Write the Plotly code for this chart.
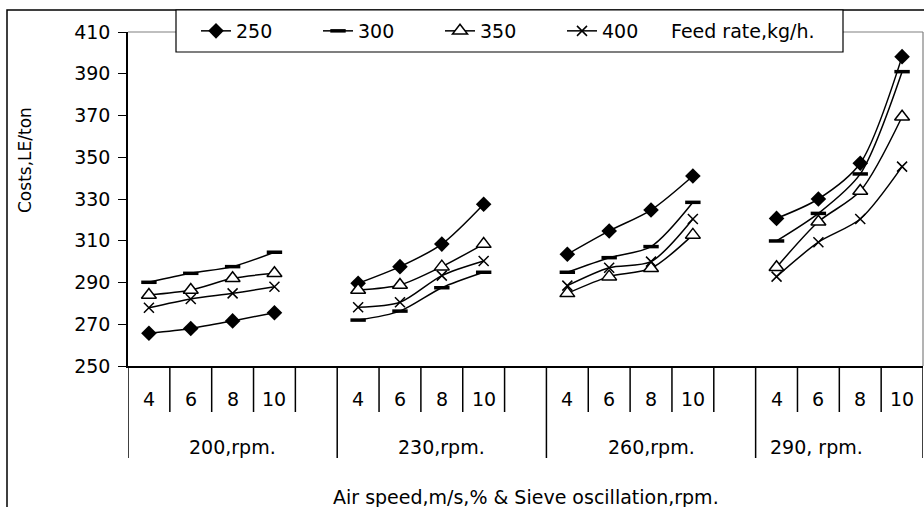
import plotly.graph_objects as go

groups = ["200,rpm.", "230,rpm.", "260,rpm.", "290, rpm."]
air_speeds = ["4", "6", "8", "10"]
feed_rates = ["250", "300", "350", "400"]

cost_250 = [265.7, 268.0, 271.6, 275.5, 289.6, 297.6, 308.4, 327.5,
            303.5, 314.7, 324.7, 341.0, 320.7, 330.0, 347.1, 398.2]
cost_300 = [290.1, 294.4, 297.6, 304.5, 272.0, 276.3, 287.5, 294.9,
            294.9, 301.9, 307.2, 328.4, 309.9, 323.1, 342.0, 391.0]
cost_350 = [284.0, 286.4, 292.0, 294.4, 286.4, 288.8, 297.6, 308.4,
            284.8, 292.8, 296.8, 312.8, 297.3, 319.1, 333.8, 369.4]
cost_400 = [277.9, 282.1, 284.8, 288.0, 278.1, 280.5, 293.3, 300.3,
            288.5, 297.1, 300.0, 320.4, 292.8, 309.3, 320.4, 345.5]

FONT = "DejaVu Sans"
FS = 19
SLOTS_PER_GROUP = 5
N_SLOTS = 19
group_centers = [2.5, 7.5, 12.5, 16.45]

W, H = 924, 507
PL, PR, PT, PB = 128, 923, 32, 366   # plot area in window pixels


def with_gaps(vals):
    xs, ys = [], []
    for g in range(len(groups)):
        for j in range(len(air_speeds)):
            xs.append(SLOTS_PER_GROUP * g + j + 0.5)
            ys.append(vals[g * len(air_speeds) + j])
        xs.append(None)
        ys.append(None)
    return xs, ys


styles = {
    "250": dict(symbol="diamond", size=12, color="black", line=dict(color="black", width=0)),
    "300": dict(symbol="line-ew", size=11, color="black", line=dict(color="black", width=3.5)),
    "350": dict(symbol="triangle-up", size=13, color="white", line=dict(color="black", width=1.5)),
    "400": dict(symbol="x-thin", size=10, color="black", line=dict(color="black", width=1.5)),
}

fig = go.Figure()
for name, vals in zip(feed_rates, [cost_250, cost_300, cost_350, cost_400]):
    xs, ys = with_gaps(vals)
    fig.add_trace(go.Scatter(
        x=xs, y=ys, name=name, mode="lines+markers",
        line=dict(color="black", width=1.5, shape="spline", smoothing=0.8),
        marker=styles[name], connectgaps=False,
    ))


def px_x(px):
    return (px - PL) / float(PR - PL)


def px_y(py):
    return (PB - py) / float(PB - PT)


shapes = []
# outer black frame
shapes.append(dict(type="rect", xref="paper", yref="paper",
                   x0=px_x(7), x1=px_x(960), y0=px_y(560), y1=px_y(10),
                   line=dict(color="black", width=1.5), fillcolor="rgba(0,0,0,0)"))
# gray plot-area border (top, right)
shapes.append(dict(type="line", xref="paper", yref="paper", x0=0, x1=1, y0=1, y1=1,
                   line=dict(color="#808080", width=1.2)))
shapes.append(dict(type="line", xref="paper", yref="paper", x0=1, x1=1, y0=0, y1=1,
                   line=dict(color="#808080", width=1.2)))
# legend box
shapes.append(dict(type="rect", xref="paper", yref="paper",
                   x0=px_x(176), x1=px_x(843), y0=px_y(52), y1=px_y(10),
                   line=dict(color="black", width=1.2), fillcolor="white"))
# category separators
for b in range(N_SLOTS + 1):
    is_group = b in (0, 5, 10, 15, 19)
    shapes.append(dict(type="line", xref="x", yref="paper", x0=b, x1=b,
                       y0=0, y1=px_y(458) if is_group else px_y(412),
                       line=dict(color="black", width=1.5)))

annotations = []
for g in range(len(groups)):
    for j, lab in enumerate(air_speeds):
        annotations.append(dict(x=SLOTS_PER_GROUP * g + j + 0.5, y=px_y(399),
                                xref="x", yref="paper", text=lab, showarrow=False,
                                font=dict(family=FONT, size=FS, color="black"),
                                xanchor="center", yanchor="middle"))
    annotations.append(dict(x=group_centers[g], y=px_y(447), xref="x", yref="paper",
                            text=groups[g], showarrow=False,
                            font=dict(family=FONT, size=FS, color="black"),
                            xanchor="center", yanchor="middle"))
annotations.append(dict(x=0.5, y=px_y(497), xref="paper", yref="paper",
                        text="Air speed,m/s,% & Sieve oscillation,rpm.", showarrow=False,
                        font=dict(family=FONT, size=FS, color="black"),
                        xanchor="center", yanchor="middle"))
annotations.append(dict(x=px_x(25), y=px_y(160), xref="paper", yref="paper",
                        text="Costs,LE/ton", showarrow=False, textangle=-90,
                        font=dict(family=FONT, size=17, color="black"),
                        xanchor="center", yanchor="middle"))
annotations.append(dict(x=px_x(669), y=px_y(31), xref="paper", yref="paper",
                        text="Feed rate,kg/h.", showarrow=False,
                        font=dict(family=FONT, size=FS, color="black"),
                        xanchor="left", yanchor="middle"))

fig.update_layout(
    width=W, height=H,
    margin=dict(l=PL, r=W - PR, t=PT, b=H - PB),
    paper_bgcolor="white", plot_bgcolor="white",
    font=dict(family=FONT, size=FS, color="black"),
    shapes=shapes, annotations=annotations,
    showlegend=True,
    legend=dict(orientation="h", x=px_x(196), xanchor="left", y=px_y(31), yanchor="middle",
                bgcolor="rgba(0,0,0,0)", borderwidth=0,
                font=dict(family=FONT, size=FS, color="black"),
                entrywidth=77, entrywidthmode="pixels", tracegroupgap=0),
    xaxis=dict(range=[0, N_SLOTS], showticklabels=False, ticks="", showgrid=False,
               zeroline=False, showline=True, linecolor="black", linewidth=1.5),
    yaxis=dict(range=[250, 410], tick0=250, dtick=20, ticks="outside", ticklen=8,
               tickcolor="black", tickwidth=1.2, showgrid=False, zeroline=False,
               showline=True, linecolor="black", linewidth=1.5, ticklabelstandoff=4,
               tickfont=dict(family=FONT, size=FS, color="black")),
)

fig.write_html("out.html",
               config={"displayModeBar": False},
               post_script="document.body.style.margin='0';document.body.style.overflow='hidden';")
